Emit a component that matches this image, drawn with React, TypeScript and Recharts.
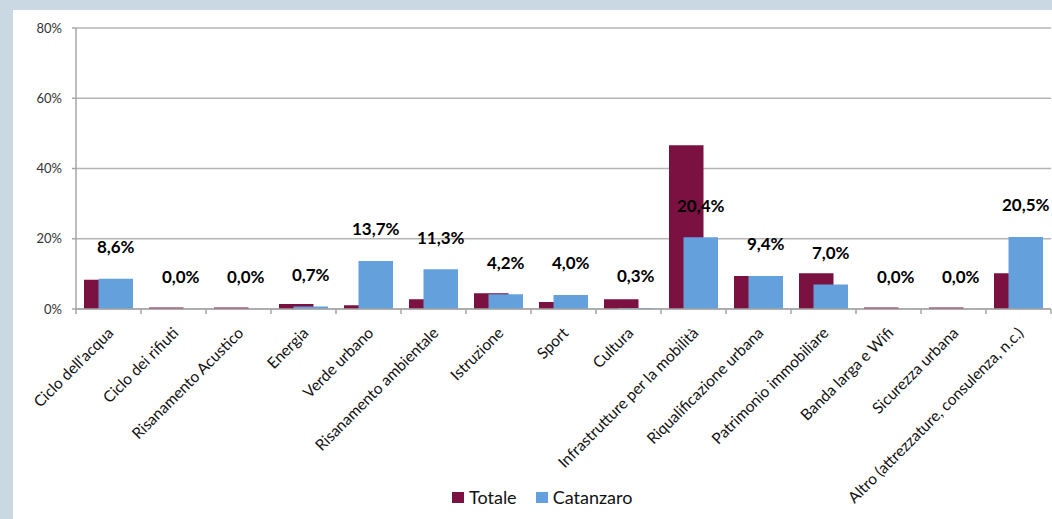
import { BarChart, Bar, XAxis, YAxis, CartesianGrid, Legend, LabelList } from 'recharts'

const categories = [
  'Ciclo dell\'acqua',
  'Ciclo dei rifiuti',
  'Risanamento Acustico',
  'Energia',
  'Verde urbano',
  'Risanamento ambientale',
  'Istruzione',
  'Sport',
  'Cultura',
  'Infrastrutture per la mobilità',
  'Riqualificazione urbana',
  'Patrimonio immobiliare',
  'Banda larga e Wifi',
  'Sicurezza urbana',
  'Altro (attrezzature, consulenza, n.c.)',
]

const totale = [8.3, 0.4, 0.4, 1.4, 1.1, 2.8, 4.5, 2.0, 2.8, 46.6, 9.4, 10.2, 0.4, 0.4, 10.2]
const catanzaro = [8.6, 0, 0, 0.7, 13.7, 11.3, 4.2, 4.0, 0.3, 20.4, 9.4, 7.0, 0, 0, 20.5]

const yTicks = [0, 20, 40, 60, 80]

const MAROON = '#7B1141'
const BLUE = '#64A1DC'
const FONT = 'Lato, "Open Sans", sans-serif'

const data = categories.map((name, i) => ({
  name,
  totale: totale[i],
  catanzaro: catanzaro[i],
}))

const fmt = (v: number) => `${v.toFixed(1).replace('.', ',')}%`

const CategoryTick = (props: any) => {
  const { x, y, payload, index } = props
  const half = payload.offset ?? 0
  const last = index === categories.length - 1
  return (
    <g>
      <line x1={x - half} y1={y} x2={x - half} y2={y + 5} stroke="#A6A6A6" strokeWidth={1.5} />
      {last && <line x1={x + half} y1={y} x2={x + half} y2={y + 5} stroke="#A6A6A6" strokeWidth={1.5} />}
      <text
        transform={`translate(${x + 6},${y + 25}) rotate(-45)`}
        textAnchor="end"
        fontFamily={FONT}
        fontSize={15.5}
        fill="#111"
      >
        {payload.value}
      </text>
    </g>
  )
}

const TopLabel = (props: any) => {
  const { x, y, width, value } = props
  return (
    <text
      x={x + width / 2}
      y={y - 32}
      textAnchor="middle"
      dominantBaseline="central"
      fontFamily={FONT}
      fontWeight={700}
      fontSize={17}
      fill="#000"
    >
      {fmt(Number(value))}
    </text>
  )
}

const LegendContent = () => (
  <div style={{ display: 'flex', alignItems: 'center', fontFamily: FONT, fontSize: 18, color: '#111' }}>
    <span style={{ width: 12, height: 11, background: MAROON, display: 'inline-block', marginRight: 5 }} />
    <span style={{ marginRight: 19 }}>Totale</span>
    <span style={{ width: 12, height: 11, background: BLUE, display: 'inline-block', marginRight: 5 }} />
    <span>Catanzaro</span>
  </div>
)

export default function App() {
  return (
    <div style={{ position: 'fixed', left: 0, top: 0, width: 1052, height: 519, background: '#C9D8E2', overflow: 'hidden' }}>
      <div style={{ position: 'absolute', left: 13, top: 10, right: 0, bottom: 0, background: '#fff' }} />
      <div style={{ position: 'absolute', left: 0, top: 0 }}>
        <BarChart
          width={1052}
          height={519}
          data={data}
          margin={{ top: 28, right: 1, left: 0, bottom: 0 }}
          barSize={34.5}
          barGap={-20}
        >
          <CartesianGrid vertical={false} stroke="#B5B5B5" strokeWidth={1.5} />
          <XAxis
            dataKey="name"
            interval={0}
            height={210}
            tickSize={0}
            tickMargin={0}
            tickLine={false}
            axisLine={{ stroke: '#A6A6A6', strokeWidth: 1.5 }}
            tick={<CategoryTick />}
          />
          <YAxis
            width={76}
            domain={[0, 80]}
            ticks={yTicks}
            tickSize={4}
            tickMargin={10}
            axisLine={{ stroke: '#A6A6A6', strokeWidth: 1.5 }}
            tickLine={{ stroke: '#A6A6A6', strokeWidth: 1.5 }}
            tickFormatter={(v: number) => `${v}%`}
            tick={{ fontSize: 13, fontFamily: FONT, fill: '#333' }}
          />
          <Legend
            layout="horizontal"
            verticalAlign="middle"
            align="center"
            content={<LegendContent />}
            wrapperStyle={{ top: 486, left: 452, width: 'auto', height: 'auto' }}
          />
          <Bar dataKey="totale" name="Totale" fill={MAROON} isAnimationActive={false} />
          <Bar dataKey="catanzaro" name="Catanzaro" fill={BLUE} minPointSize={0.01} isAnimationActive={false}>
            <LabelList dataKey="catanzaro" content={<TopLabel />} />
          </Bar>
        </BarChart>
      </div>
    </div>
  )
}
